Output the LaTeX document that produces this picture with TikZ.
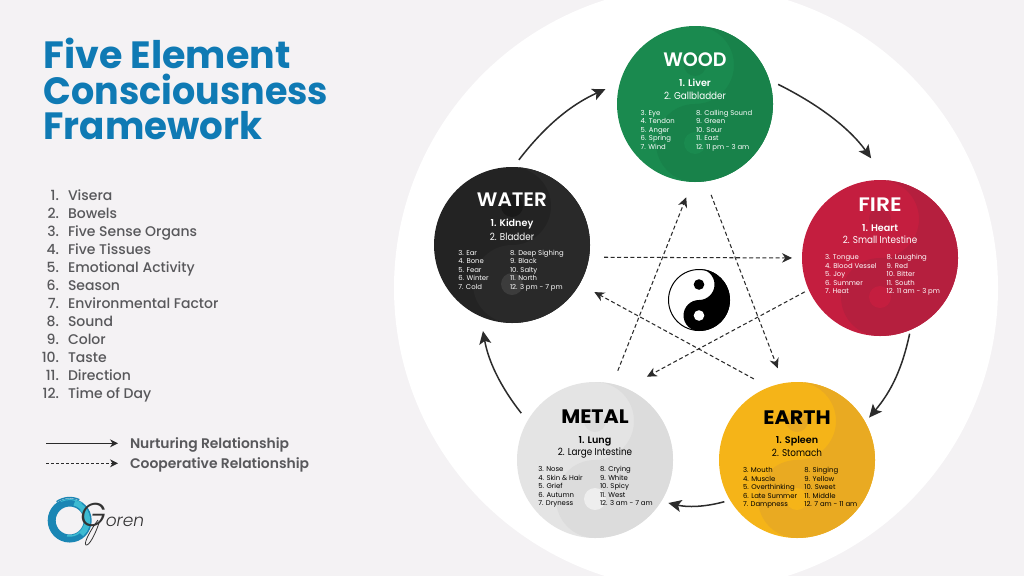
\documentclass[tikz,border=0pt]{standalone}
\usepackage{fontspec}
\usepackage{graphicx}
\usetikzlibrary{arrows.meta,calc}
\setmainfont{Poppins}
\newfontfamily\popm{Poppins Medium}
\newfontfamily\pops{Poppins SemiBold}
\newfontfamily\popn[FakeStretch=0.88]{Poppins}
\newfontfamily\logof{Poppins Light}
\definecolor{bgc}{HTML}{F4F2F4}
\definecolor{titleblue}{HTML}{0F7AB4}
\definecolor{txtgrey}{HTML}{58585B}
\definecolor{inkc}{HTML}{2B2B2B}
\definecolor{woodc}{HTML}{1A8A4F}\definecolor{woodd}{HTML}{18824A}
\definecolor{firec}{HTML}{C41E3F}\definecolor{fired}{HTML}{B51F3E}
\definecolor{waterc}{HTML}{232323}\definecolor{waterd}{HTML}{292929}\definecolor{watere}{HTML}{3C3C3C}\definecolor{waterf}{HTML}{191919}
\definecolor{metalc}{HTML}{E4E4E4}\definecolor{metald}{HTML}{DCDCDC}\definecolor{metale}{HTML}{EEEEEE}
\definecolor{earthc}{HTML}{F5B418}\definecolor{earthd}{HTML}{E9AA22}
\definecolor{logoa}{HTML}{1A86B4}\definecolor{logob}{HTML}{3DBBD2}
\tikzset{
 nur/.style={draw=inkc,line width=1.5pt,-{Stealth[length=13pt,width=12pt,inset=3pt]}},
 coop/.style={draw=inkc,line width=1.05pt,dash pattern=on 4pt off 2.6pt,-{Stealth[length=10pt,width=9.5pt]}},
 disc/.style={circle,minimum size=156pt,inner sep=0pt,outer sep=0pt},
 lab/.style={inner sep=0pt,outer sep=0pt},
 leglab/.style={lab,anchor=base west,text=txtgrey,font=\pops\fontsize{13.9}{16}\selectfont},
 ttlab/.style={lab,anchor=base west,text=titleblue,font=\bfseries\fontsize{38}{38}\selectfont},
}
% cx cy R eyeR dark lowereye uppereye
\newcommand\yinyang[7]{%
 \fill[#5] (#1,#2-#3) arc[start angle=90,end angle=-90,radius=#3 pt]
   arc[start angle=270,end angle=90,radius=#3/2 pt]
   arc[start angle=270,end angle=450,radius=#3/2 pt] -- cycle;
 \fill[#7] (#1,#2-#3/2) circle[radius=#4 pt];
 \fill[#6] (#1,#2+#3/2) circle[radius=#4 pt];
}
% name, colour, cx, cy, title, line1, line2, col1, col2
\newcommand\elemtext[9]{%
 \node[lab,text=#2,font=\tf\fontsize{19.5}{19.5}\selectfont] (#1-title) at ({#3},{#4+\dt}) {\scalebox{\tx}[1]{#5}};
 \node[lab,text=#2,font=\pops\fontsize{9.6}{12}\selectfont] (#1-a) at ({#3},{#4+\da}) {#6};
 \node[lab,text=#2,font=\popn\fontsize{10}{12}\selectfont] (#1-b) at ({#3},{#4+\db}) {#7};
 \node[lab,anchor=north west,align=left,text=#2,font=\fontsize{6.9}{8.5}\selectfont] (#1-c) at ({#3+\lx},{#4+\dl}) {#8};
 \node[lab,anchor=north west,align=left,text=#2,font=\fontsize{6.9}{8.5}\selectfont] (#1-d) at ({#3+\rx},{#4+\dl}) {#9};
}
\begin{document}
\begin{tikzpicture}[x=1pt,y=-1pt]
\useasboundingbox (0,0) rectangle (1024,576);
\fill[bgc] (0,0) rectangle (1024,576);
\begin{scope}
\clip (0,0) rectangle (1024,576);
\fill[white] (696,288) circle[radius=302pt];
\end{scope}
% discs
\node[disc,fill=woodc] (wood) at (695,104) {};
\node[disc,fill=firec] (fire) at (880,258) {};
\node[disc,fill=waterc] (water) at (512,245) {};
\node[disc,fill=metalc] (metal) at (595,460) {};
\node[disc,fill=earthc] (earth) at (797,460) {};
\yinyang{695}{104}{78}{11}{woodd}{woodc}{woodd}
\yinyang{880}{258}{78}{11}{fired}{firec}{fired}
\yinyang{512}{245}{78}{11}{waterd}{watere}{waterf}
\yinyang{595}{460}{78}{11}{metald}{metale}{metald}
\yinyang{797}{460}{78}{11}{earthd}{earthc}{earthd}
% element texts
\def\tf{\pops}\def\tx{0.98}\def\dt{-44}\def\da{-21}\def\db{-8.5}\def\dl{6.2}\def\lx{-54.3}\def\rx{1}
\elemtext{woodt}{white}{695}{104}{WOOD}{1. Liver}{2. Gallbladder}{3. Eye\\4. Tendon\\5. Anger\\6. Spring\\7. Wind}{8. Calling Sound\\9. Green\\10. Sour\\11. East\\12. 11 pm - 3 am}
\def\tx{1.03}\def\dt{-45}\def\da{-21}\def\db{-8.5}\def\dl{5.2}\def\lx{-53.7}\def\rx{-2}
\elemtext{watert}{white}{512}{245}{WATER}{1. Kidney}{2. Bladder}{3. Ear\\4. Bone\\5. Fear\\6. Winter\\7. Cold}{8. Deep Sighing\\9. Black\\10. Salty\\11. North\\12. 3 pm - 7 pm}
\def\tx{1.12}\def\dt{-53.7}\def\da{-30}\def\db{-18}\def\dl{-3.5}\def\lx{-55}\def\rx{6.7}
\elemtext{firet}{white}{880}{258}{FIRE}{1. Heart}{2. Small Intestine}{3. Tongue\\4. Blood Vessel\\5. Joy\\6. Summer\\7. Heat}{8. Laughing\\9. Red\\10. Bitter\\11. South\\12. 11 am - 3 pm}
\def\tf{\bfseries}\def\tx{1.06}\def\dt{-43}\def\da{-19}\def\db{-7}\def\dl{6.7}\def\lx{-56.7}\def\rx{5}
\elemtext{metalt}{black}{595}{460}{METAL}{1. Lung}{2. Large Intestine}{3. Nose\\4. Skin \& Hair\\5. Grief\\6. Autumn\\7. Dryness}{8. Crying\\9. White\\10. Spicy\\11. West\\12. 3 am - 7 am}
\def\dt{-42.7}\def\da{-19}\def\db{-7}\def\dl{7.4}\def\lx{-54}\def\rx{7.3}
\elemtext{eartht}{black}{797}{460}{EARTH}{1. Spleen}{2. Stomach}{3. Mouth\\4. Muscle\\5. Overthinking\\6. Late Summer\\7. Dampness}{8. Singing\\9. Yellow\\10. Sweet\\11. Middle\\12. 7 am - 11 am}
% nurturing
\draw[nur,shorten <=9pt,shorten >=16pt] (water.89) to[bend left=14] (wood.164.3);
\draw[nur,shorten <=10pt,shorten >=27pt] (wood.18.6) to[bend left=14] (fire.85);
\draw[nur,shorten <=4pt,shorten >=6pt] (fire.-67.8) to[bend left=14] (earth.29);
\draw[nur,shorten <=6pt,shorten >=7.4pt] (earth.211) to[bend left=14] (metal.-32.6);
\draw[nur,shorten <=10pt,shorten >=15pt] (metal.150.2) to[bend left=14] (water.-114.4);
% cooperative
\draw[coop,shorten <=14.3pt,shorten >=16.5pt] (metal.77.1) -- (wood.268.4);
\draw[coop,shorten <=14.6pt,shorten >=16pt] (wood.-82.9) -- (earth.100.3);
\draw[coop,shorten <=15pt,shorten >=10pt] (water.-9.1) -- (fire.180);
\draw[coop,shorten <=4.5pt,shorten >=24.3pt] (fire.204.4) -- (metal.67.1);
\draw[coop,shorten <=17.3pt,shorten >=16.9pt] (earth.111.9) -- (water.-30.5);
% central yin yang
\fill[white] (699,300) circle[radius=31pt];
\fill[black] (699,269) arc[start angle=90,end angle=-90,radius=31pt]
  arc[start angle=270,end angle=90,radius=15.5pt]
  arc[start angle=270,end angle=450,radius=15.5pt] -- cycle;
\draw[black,line width=1pt] (699,300) circle[radius=30.5pt];
\fill[black] (699,284.5) circle[radius=5.3pt];
\fill[white] (699,315.5) circle[radius=5.3pt];
% title
\node[ttlab] (title1) at (43.5,68.5) {\scalebox{1.0}[1]{Five Element}};
\node[ttlab] (title2) at (43.5,104) {\scalebox{0.96}[1]{Consciousness}};
\node[ttlab] (title3) at (43.5,139) {\scalebox{0.98}[1]{Framework}};
% list
\foreach \n/\t [count=\i from 0] in {1/Visera,2/Bowels,3/Five Sense Organs,4/Five Tissues,5/Emotional Activity,6/Season,7/Environmental Factor,8/Sound,9/Color,10/Taste,11/Direction,12/Time of Day}{
 \node[lab,anchor=base east,text=txtgrey,font=\popm\fontsize{14}{16}\selectfont] (num\i) at (59,{200+18*\i}) {\n.};
 \node[lab,anchor=base west,text=txtgrey,font=\popm\fontsize{14}{16}\selectfont] (item\i) at (68,{200+18*\i}) {\t};
}
% legend
\coordinate (la) at (46,443.3);\coordinate (lb) at (118,443.3);
\coordinate (lc) at (46,463.3);\coordinate (ld) at (118,463.3);
\draw[inkc,line width=1pt,-{Stealth[length=8pt,width=8pt]}] (la) -- (lb);
\draw[inkc,line width=0.9pt,dash pattern=on 3pt off 2pt,-{Stealth[length=8pt,width=8pt]}] (lc) -- (ld);
\node[leglab] (nurt) at (130,448) {Nurturing Relationship};
\node[leglab] (coopt) at (130,468) {Cooperative Relationship};
% logo
\draw[logoa,line width=8pt] (69.7,520.5) circle[radius=18pt];
\draw[logob,line width=5pt] (69.7,520.5) ++(75:18pt) arc[start angle=75,end angle=-50,radius=18pt];
\draw[logob,line width=1.5pt] (69.7,520.5) ++(45:15.5pt) arc[start angle=45,end angle=-100,radius=15.5pt];
\draw[logoa,line width=1.4pt] (69.7,520.5) ++(125:23pt) arc[start angle=125,end angle=65,radius=23pt];
\draw[logob,line width=1pt] (69.7,520.5) ++(115:21pt) arc[start angle=115,end angle=55,radius=21pt];
\node[lab,anchor=base west,text=black!80,font=\logof\itshape\fontsize{17}{17}\selectfont] (goren) at (80,526) {{\fontsize{33}{33}\selectfont G}oren};
\draw[black!80,line width=0.8pt] (99,523) .. controls (95,535) and (89,546) .. (86,545) .. controls (83,543) and (92,528) .. (98,520);
\end{tikzpicture}
\end{document}
